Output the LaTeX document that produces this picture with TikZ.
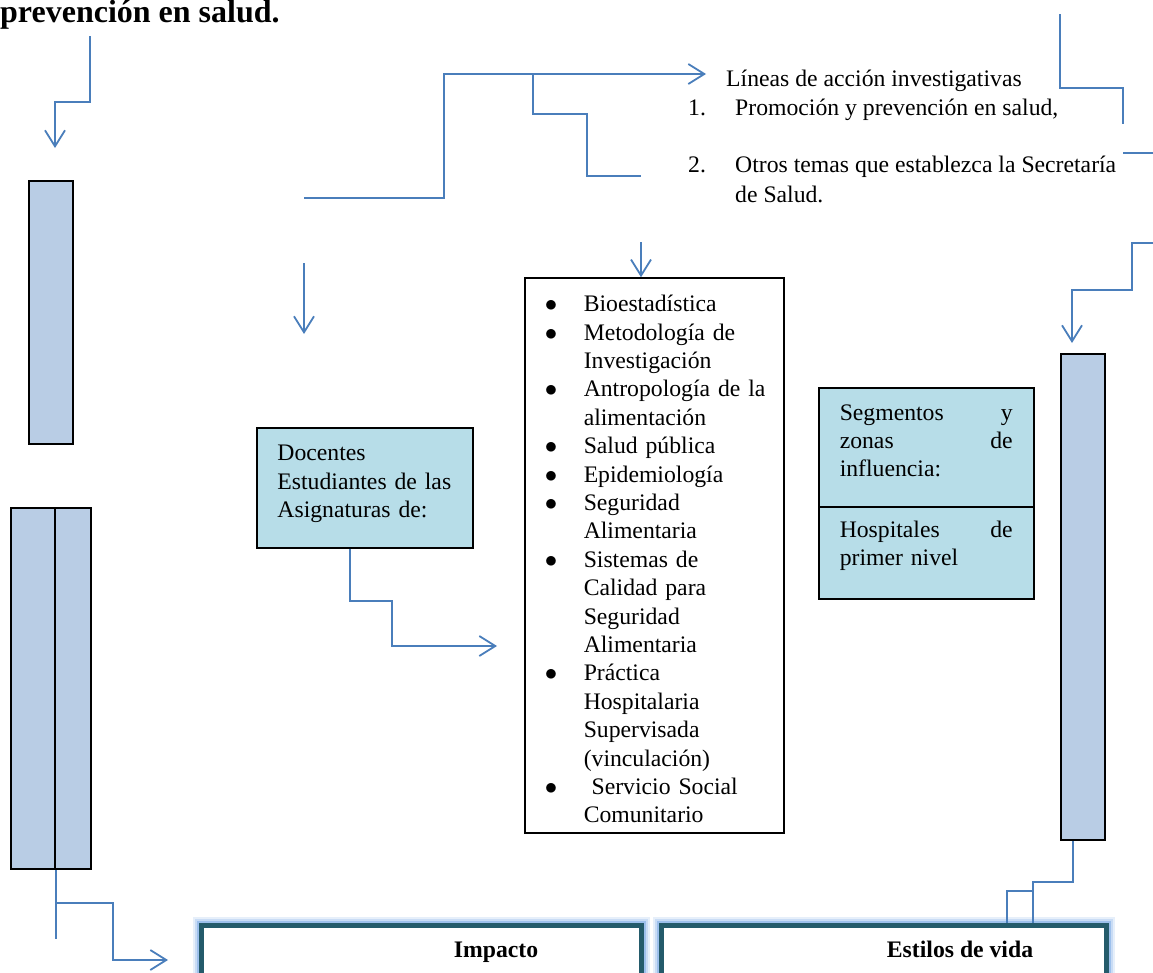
\documentclass[tikz,border=0pt]{standalone}
\usepackage{fontspec}
\setmainfont{Liberation Serif}
\usetikzlibrary{arrows.meta}
\definecolor{linea}{HTML}{4A7EBB}
\definecolor{azulbarra}{HTML}{B9CDE5}
\definecolor{azulcaja}{HTML}{B7DDE8}
\definecolor{borde}{HTML}{245B6B}
\definecolor{brillo}{HTML}{9DC0EC}
\newcommand{\texto}{\fontsize{23.7pt}{28.4pt}\selectfont}
\newcommand{\titular}{\fontsize{32pt}{38pt}\selectfont\bfseries}
\newcommand{\punto}{\hspace{-3pt}$\bullet$}
\tikzstyle{conector} = [
  draw=linea,
  line width=1.8pt,
]
\tikzstyle{barra} = [
  draw,
  line width=2pt,
  fill=azulbarra,
  rectangle,
  inner sep=0pt,
  anchor=north west,
]
\tikzstyle{tema} = [
  draw,
  line width=1.5pt,
  fill=azulcaja,
  rectangle,
  align=left,
  font=\texto,
  inner ysep=0pt,
  anchor=base west,
]
\tikzstyle{lista} = [
  tema,
  fill=white,
]
\tikzstyle{nota} = [
  font=\texto,
  inner sep=0pt,
  anchor=base west,
]
\tikzstyle{resultado} = [
  preaction={draw=brillo!25, line width=17pt},
  preaction={draw=brillo!55, line width=13pt},
  preaction={draw=brillo, line width=9pt},
  draw=borde,
  line width=4.5pt,
  fill=white,
  rectangle,
  inner sep=0pt,
  anchor=north west,
]

\begin{document}
\begin{tikzpicture}[
    x=1pt,
    y=-1pt,
    >={Straight Barb[length=16pt,width=20pt]},
  ]
  \path[use as bounding box, clip] (0,0) rectangle (1153,972);
  \node[nota, font=\titular] (titulo) at (0,22) {prevención en salud.};
  \node[
    barra,
    minimum width=44pt,
    minimum height=263pt,
  ] (colA) at (28,180) {};
  \node[
    barra,
    minimum width=44pt,
    minimum height=361pt,
  ] (colB) at (10,507) {};
  \node[
    barra,
    minimum width=36pt,
    minimum height=361pt,
  ] (colC) at (54,507) {};
  \node[
    barra,
    minimum width=44pt,
    minimum height=486pt,
  ] (colD) at (1060,353) {};
  \node[
    tema,
    text width=174.6pt,
    inner xsep=20.7pt,
    text height=32.7pt,
    text depth=87.3pt,
  ] (docentes) at (256,460.7) {Docentes\\Estudiantes de las\\Asignaturas de:};
  \node[
    lista,
    text width=213pt,
    inner xsep=23pt,
    text height=33.7pt,
    text depth=521.3pt,
  ] (asig) at (524,311.7) {\begin{tabular}[t]{@{}p{36pt}@{}l@{}}
    \punto & Bioestadística\\
    \punto & Metodología de\\
    & Investigación\\
    \punto & Antropología de la\\
    & alimentación\\
    \punto & Salud pública\\
    \punto & Epidemiología\\
    \punto & Seguridad\\
    & Alimentaria\\
    \punto & Sistemas de\\
    & Calidad para\\
    & Seguridad\\
    & Alimentaria\\
    \punto & Práctica\\
    & Hospitalaria\\
    & Supervisada\\
    & (vinculación)\\
    \punto & \ Servicio Social\\
    & Comunitario
  \end{tabular}};
  \node[
    tema,
    text width=173pt,
    inner xsep=21pt,
    text height=32pt,
    text depth=87pt,
  ] (segm) at (818,420) {Segmentos\hfill y\\zonas\hfill de\\influencia:};
  \node[
    tema,
    text width=173pt,
    inner xsep=21pt,
    text height=30pt,
    text depth=62pt,
  ] (hosp) at (818,537) {Hospitales\hfill de\\primer nivel};
  \node[nota] (lineas) at (726,86) {Líneas de acción investigativas};
  \node[nota] (acciones) at (688,115) {\begin{tabular}[t]{@{}p{47pt}@{}l@{}}
    1. & Promoción y prevención en salud,\\[29pt]
    2. & Otros temas que establezca la Secretaría\\[1.5pt]
    & de Salud.
  \end{tabular}};
  \node[
    resultado,
    minimum width=440pt,
    minimum height=100pt,
  ] (impacto) at (199,923) {};
  \node[
    resultado,
    minimum width=445pt,
    minimum height=100pt,
  ] (estilos) at (659,923) {};
  \node[nota, font=\texto\bfseries, anchor=base] (impactotxt) at (496,957) {Impacto};
  \node[nota, font=\texto\bfseries, anchor=base] (estilostxt) at (960,957) {Estilos de vida};
  \coordinate (t1) at (90,36);
  \coordinate (t2) at (55,148);
  \coordinate (m1) at (304,198);
  \coordinate (m2) at (706,74);
  \coordinate (m3) at (641,176);
  \coordinate (m4) at (641,242);
  \coordinate (m5) at (304,263);
  \coordinate (m6) at (304,334);
  \coordinate (d1) at (497,646);
  \coordinate (r1) at (1060,14);
  \coordinate (r2) at (1123,124);
  \coordinate (r3) at (1123,153);
  \coordinate (r4) at (1153,243);
  \coordinate (r5) at (1072,343);
  \coordinate (b1) at (55,939);
  \coordinate (b2) at (113,903);
  \coordinate (b3) at (168,960);
  \coordinate (e1) at (1033,882);
  \coordinate (e2) at (1007,891);
  \draw[conector, ->] (t1) |- (55,102) -- (t2);
  \draw[conector, ->] (m1) -| (444,74) -- (m2);
  \draw[conector] (533,74) |- (587,114) |- (m3);
  \draw[conector, ->] (m4) -- (m4 |- asig.north);
  \draw[conector, ->] (m5) -- (m6);
  \draw[conector, ->] ([xshift=-15pt]docentes.south) |- (392,601) |- (d1);
  \draw[conector] (r1) |- (1123,88) -- (r2);
  \draw[conector] (r3) -- (1153,153);
  \draw[conector, ->] (r4) -| (1132,290) -| (r5);
  \draw[conector] (colB.south east) -- (colB.south east |- b1);
  \draw[conector, ->] (colB.south east |- b2) -- (b2) |- (b3);
  \draw[conector] ([xshift=-10pt]colD.south) |- (e1) -- (e1 |- estilos.north);
  \draw[conector] (e1 |- e2) -| (e2 |- estilos.north);
\end{tikzpicture}
\end{document}
